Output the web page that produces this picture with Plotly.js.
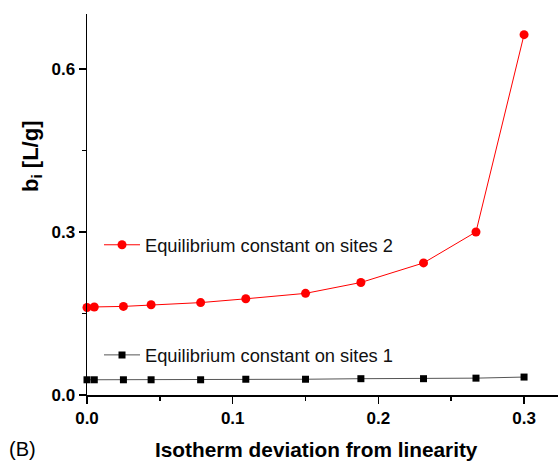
<!DOCTYPE html>
<html>
<head>
<meta charset="utf-8">
<script src="https://cdn.plot.ly/plotly-3.0.1.min.js"></script>
<style>
  html, body { margin: 0; padding: 0; background: #fff; }
  #chart { width: 560px; height: 461px; }
</style>
</head>
<body>
<div id="chart"></div>
<script>
// Isotherm deviation from linearity (x) for both series
const deviation = [0, 0.005, 0.025, 0.044, 0.078, 0.109, 0.150, 0.188, 0.231, 0.267, 0.300];
// Equilibrium constant on sites 2 [L/g]
const bSites2 = [0.161, 0.162, 0.163, 0.166, 0.170, 0.177, 0.187, 0.207, 0.243, 0.300, 0.663];
// Equilibrium constant on sites 1 [L/g]
const bSites1 = [0.028, 0.028, 0.028, 0.028, 0.028, 0.029, 0.029, 0.030, 0.030, 0.031, 0.033];

const seriesNames = ['Equilibrium constant on sites 2', 'Equilibrium constant on sites 1'];
const xTitle = 'Isotherm deviation from linearity';
const yTitle = '<b>b<sub>i</sub> [L/g]</b>';
const panelLabel = '(B)';

const FONT = 'Liberation Sans, Arial, Helvetica, sans-serif';

const traces = [
  {
    x: deviation, y: bSites2, name: seriesNames[0],
    type: 'scatter', mode: 'lines+markers', cliponaxis: false,
    line: { color: '#ff0000', width: 1 },
    marker: { symbol: 'circle', size: 9, color: '#ff0000' },
    legend: 'legend'
  },
  {
    x: deviation, y: bSites1, name: seriesNames[1],
    type: 'scatter', mode: 'lines+markers', cliponaxis: false,
    line: { color: '#555555', width: 1 },
    marker: { symbol: 'square', size: 7, color: '#000000' },
    legend: 'legend2'
  }
];

const axisCommon = {
  showgrid: false, zeroline: false,
  showline: true, linecolor: '#000', linewidth: 1.5,
  ticks: 'outside', ticklen: 7, tickwidth: 1.5, tickcolor: '#000',
  tickfont: { family: FONT, size: 17, color: '#000', weight: 'bold' },
  fixedrange: true
};

const legendCommon = {
  xanchor: 'left', yanchor: 'middle',
  bgcolor: 'rgba(0,0,0,0)', borderwidth: 0,
  itemwidth: 36,
  font: { family: FONT, size: 18.3, color: '#111' }
};

const layout = {
  width: 560, height: 461,
  margin: { l: 87, r: 2, t: 14, b: 66 },
  paper_bgcolor: '#fff', plot_bgcolor: '#fff',
  showlegend: true,
  xaxis: Object.assign({}, axisCommon, {
    range: [0, 0.3233], dtick: 0.1, tick0: 0, tickformat: '.1f',
    minor: { dtick: 0.05, ticklen: 4, tickwidth: 1.5, tickcolor: '#000', ticks: 'outside' }
  }),
  yaxis: Object.assign({}, axisCommon, {
    range: [0, 0.701], dtick: 0.3, tick0: 0, tickformat: '.1f',
    minor: { dtick: 0.15, ticklen: 4, tickwidth: 1.5, tickcolor: '#000', ticks: 'outside' }
  }),
  legend: Object.assign({}, legendCommon, { x: 0.0255, y: 0.394 }),
  legend2: Object.assign({}, legendCommon, { x: 0.0255, y: 0.105 }),
  annotations: [
    {
      text: '<b>' + xTitle + '</b>', xref: 'paper', yref: 'paper',
      x: 0.488, y: -0.144, xanchor: 'center', yanchor: 'middle', showarrow: false,
      font: { family: FONT, size: 20.8, color: '#000' }
    },
    {
      text: yTitle, xref: 'paper', yref: 'paper', textangle: -90,
      x: -0.117, y: 0.627, xanchor: 'center', yanchor: 'middle', showarrow: false,
      font: { family: FONT, size: 22, color: '#000' }
    },
    {
      text: panelLabel, xref: 'paper', yref: 'paper',
      x: -0.138, y: -0.1405, xanchor: 'center', yanchor: 'middle', showarrow: false,
      borderpad: 0,
      font: { family: FONT, size: 20, color: '#000' }
    }
  ]
};

Plotly.newPlot('chart', traces, layout, { displayModeBar: false, staticPlot: true });
</script>
</body>
</html>
